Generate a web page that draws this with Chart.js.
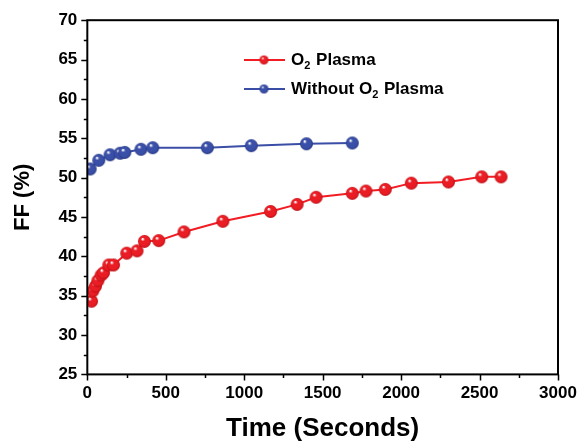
<!DOCTYPE html>
<html>
<head>
<meta charset="utf-8">
<script src="https://cdn.jsdelivr.net/npm/chart.js@4.4.0/dist/chart.umd.min.js"></script>
<style>
  html, body { margin: 0; padding: 0; background: #fff; }
  #wrap { width: 582px; height: 444px; }
</style>
</head>
<body>
<div id="wrap"><canvas id="chart" width="582" height="444"></canvas></div>
<script>
// FF vs time, with and without O2 plasma treatment

// O2 plasma series
const plasmaTime = [27, 35, 52, 67, 88, 103, 137, 167, 251, 317, 364, 455, 616, 864, 1168, 1337, 1458, 1689, 1776, 1899, 2065, 2302, 2514, 2637];
const plasmaFF   = [34.3, 35.6, 36.2, 36.9, 37.6, 37.9, 38.9, 38.9, 40.4, 40.7, 41.9, 42.0, 43.1, 44.45, 45.7, 46.6, 47.5, 48.0, 48.3, 48.5, 49.3, 49.45, 50.1, 50.1];

// without O2 plasma series
const noPlasmaTime = [18, 73, 145, 209, 239, 342, 417, 765, 1045, 1397, 1689];
const noPlasmaFF   = [51.1, 52.2, 52.9, 53.1, 53.2, 53.6, 53.8, 53.8, 54.06, 54.3, 54.4];

const seriesLabels = ['O₂ Plasma', 'Without O₂ Plasma'];
const xTicks = [0, 500, 1000, 1500, 2000, 2500, 3000];
const yTicks = [25, 30, 35, 40, 45, 50, 55, 60, 65, 70];

const FONT = '"Liberation Sans", Arial, sans-serif';

function toPoints(xs, ys) {
  return xs.map((x, i) => ({ x: x, y: ys[i] }));
}

// shaded ball marker, pre-rendered
function makeBall(r, base, dark) {
  const cv = document.createElement('canvas');
  const s = Math.ceil(r * 2 + 2);
  cv.width = s; cv.height = s;
  const c = cv.getContext('2d');
  const m = s / 2;
  const g = c.createRadialGradient(m - r * 0.3, m - r * 0.4, r * 0.08, m, m, r);
  g.addColorStop(0, '#ffffff');
  g.addColorStop(0.25, base);
  g.addColorStop(0.75, base);
  g.addColorStop(1, dark);
  c.fillStyle = g;
  c.beginPath();
  c.arc(m, m, r, 0, Math.PI * 2);
  c.fill();
  return cv;
}

const redBall = makeBall(6.5, '#ea1c24', '#b80f14');
const blueBall = makeBall(6.5, '#3a4fa8', '#243580');
const redSmall = makeBall(4.5, '#ea1c24', '#b80f14');
const blueSmall = makeBall(4.5, '#3a4fa8', '#243580');

// frame, minor/major ticks
const framePlugin = {
  id: 'frame',
  afterDraw(chart) {
    const c = chart.ctx, a = chart.chartArea;
    const sx = chart.scales.x, sy = chart.scales.y;
    c.save();
    c.strokeStyle = '#000';
    c.lineWidth = 2;
    c.strokeRect(a.left, a.top, a.right - a.left, a.bottom - a.top);
    c.lineWidth = 1.5;
    c.beginPath();
    for (let v = 0; v <= 3000; v += 250) {
      const p = Math.round(sx.getPixelForValue(v)) + 0.5;
      const len = v % 500 === 0 ? 6 : 3.5;
      c.moveTo(p, a.bottom);
      c.lineTo(p, a.bottom + len);
    }
    for (let v = 25; v <= 70; v += 2.5) {
      const p = Math.round(sy.getPixelForValue(v)) + 0.5;
      const len = v % 5 === 0 ? 6 : 3.5;
      c.moveTo(a.left, p);
      c.lineTo(a.left - len, p);
    }
    c.stroke();
    c.restore();
  }
};

// legend drawn inside the plot, with subscript 2
const legendPlugin = {
  id: 'subLegend',
  afterDraw(chart) {
    const c = chart.ctx;
    const rows = [60, 89];
    const balls = [redSmall, blueSmall];
    c.save();
    chart.data.datasets.forEach((ds, i) => {
      const y = rows[i];
      c.strokeStyle = ds.borderColor;
      c.lineWidth = 2;
      c.beginPath();
      c.moveTo(244, y);
      c.lineTo(285, y);
      c.stroke();
      const b = balls[i];
      c.drawImage(b, 264 - b.width / 2, y - b.height / 2);
      let x = 291;
      c.fillStyle = '#000';
      c.textBaseline = 'middle';
      for (const ch of ds.label) {
        if (ch === '₂') {
          c.font = 'bold 11px ' + FONT;
          c.fillText('2', x, y + 6);
          x += c.measureText('2').width + 1;
        } else {
          c.font = 'bold 17px ' + FONT;
          c.fillText(ch, x, y);
          x += c.measureText(ch).width;
        }
      }
    });
    c.restore();
  }
};

new Chart(document.getElementById('chart').getContext('2d'), {
  type: 'line',
  data: {
    datasets: [
      {
        label: seriesLabels[0],
        data: toPoints(plasmaTime, plasmaFF),
        borderColor: '#f21d24',
        borderWidth: 2,
        pointStyle: redBall,
        pointRadius: 6.5,
        tension: 0
      },
      {
        label: seriesLabels[1],
        data: toPoints(noPlasmaTime, noPlasmaFF),
        borderColor: '#3a4ea6',
        borderWidth: 2,
        pointStyle: blueBall,
        pointRadius: 6.5,
        tension: 0
      }
    ]
  },
  options: {
    responsive: false,
    animation: false,
    events: [],
    layout: { padding: { top: 15, right: 2, left: 10, bottom: 0 } },
    plugins: {
      legend: { display: false },
      tooltip: { enabled: false }
    },
    scales: {
      x: {
        type: 'linear',
        min: 0,
        max: 3000,
        afterBuildTicks: (s) => { s.ticks = xTicks.map(v => ({ value: v })); },
        afterFit: (s) => { s.paddingRight = 24; },
        grid: { drawOnChartArea: false, drawTicks: false },
        border: { display: false },
        ticks: { color: '#000', padding: 9, callback: v => String(v),
                 font: { family: FONT, size: 17, weight: 'bold' } },
        title: { display: true, text: 'Time (Seconds)', color: '#000', padding: { top: 0, bottom: 0 },
                 font: { family: FONT, size: 26, weight: 'bold' } }
      },
      y: {
        type: 'linear',
        min: 25,
        max: 70,
        afterBuildTicks: (s) => { s.ticks = yTicks.map(v => ({ value: v })); },
        grid: { drawOnChartArea: false, drawTicks: false },
        border: { display: false },
        ticks: { color: '#000', padding: 10, callback: v => String(v),
                 font: { family: FONT, size: 17, weight: 'bold' } },
        title: { display: true, text: 'FF (%)', color: '#000', padding: { top: 0, bottom: 12 },
                 font: { family: FONT, size: 22, weight: 'bold' } }
      }
    }
  },
  plugins: [framePlugin, legendPlugin]
});
</script>
</body>
</html>
